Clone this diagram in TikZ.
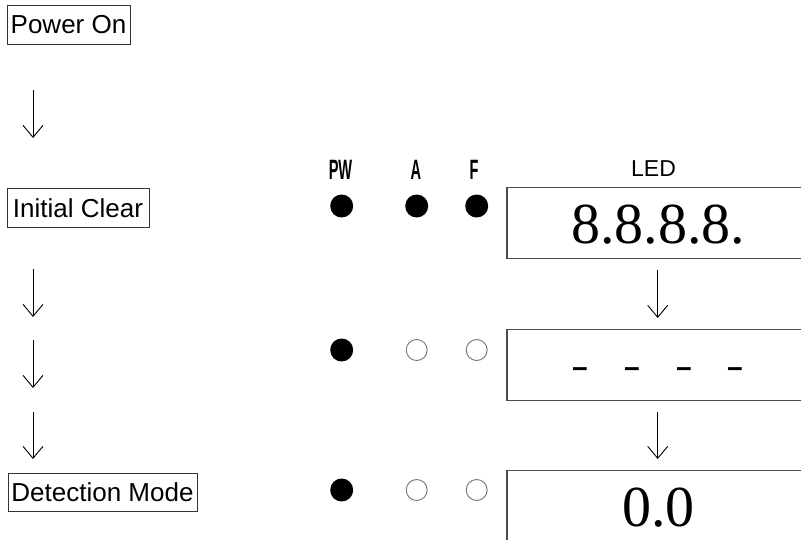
\documentclass[tikz,border=0pt]{standalone}
\usepackage{fontspec}
\usepackage{graphicx}
\setmainfont{Liberation Sans}
\newfontfamily\serifdig{Liberation Serif}
\usetikzlibrary{arrows.meta}
\tikzset{
  stepbox/.style={draw=black!80, line width=0.9pt, inner sep=0pt, font=\fontsize{26}{30}\selectfont},
  ledbox/.style={draw=black!70, line width=1.3pt, inner sep=0pt, minimum width=303pt, minimum height=71pt},
  digits/.style={inner sep=0pt, font=\serifdig\fontsize{58}{62}\selectfont},
  dashtext/.style={inner sep=0pt, font=\serifdig\fontsize{53}{56}\selectfont},
  flowarrow/.style={line width=0.9pt, -{Straight Barb[length=12pt,width=20pt,line width=0.9pt]}},
  ledon/.style={circle, fill=black, minimum size=23pt, inner sep=0pt},
  ledoff/.style={circle, draw=black!55, line width=0.9pt, minimum size=21pt, inner sep=0pt},
  lamplabel/.style={inner sep=0pt, font=\bfseries\fontsize{28}{30}\selectfont},
  ledlabel/.style={inner sep=0pt, font=\fontsize{23}{26}\selectfont}
}
\begin{document}
\begin{tikzpicture}[x=1pt,y=-1pt]
\clip (0,0) rectangle (801,539);
\fill[white] (0,0) rectangle (801,539);

% step boxes
\node[stepbox, minimum width=123pt, minimum height=39pt] (pon) at (68.5,24.5) {Power On};
\node[stepbox, minimum width=142pt, minimum height=39pt] (ic) at (78,207.8) {Initial Clear};
\node[stepbox, minimum width=189pt, minimum height=38pt] (dm) at (102.5,492) {Detection Mode};

% left arrows
\coordinate (a1s) at (33,90);  \coordinate (a1e) at (33,138);
\coordinate (a2s) at (33,269); \coordinate (a2e) at (33,317);
\coordinate (a3s) at (33,340); \coordinate (a3e) at (33,388);
\coordinate (a4s) at (33,412); \coordinate (a4e) at (33,459);
\draw[flowarrow] (a1s) -- (a1e);
\draw[flowarrow] (a2s) -- (a2e);
\draw[flowarrow] (a3s) -- (a3e);
\draw[flowarrow] (a4s) -- (a4e);

% lamp labels
\node[lamplabel, anchor=base] (pw) at (340.5,179) {\scalebox{0.52}[1]{PW}};
\node[lamplabel, anchor=base] (la) at (416,179) {\scalebox{0.52}[1]{A}};
\node[lamplabel, anchor=base] (lf) at (474,179) {\scalebox{0.52}[1]{F}};
\node[ledlabel, anchor=base] (led) at (653.5,176) {LED};

% lamps row 1
\node[ledon] (p1) at (341.7,206) {};
\node[ledon] (q1) at (416.7,206) {};
\node[ledon] (f1) at (476.7,206) {};
% row 2
\node[ledon] (p2) at (341.7,350) {};
\node[ledoff] (q2) at (416.7,350) {};
\node[ledoff] (f2) at (476.7,350) {};
% row 3
\node[ledon] (p3) at (341.7,490) {};
\node[ledoff] (q3) at (416.7,490) {};
\node[ledoff] (f3) at (476.7,490) {};

% LED boxes
\node[ledbox] (b1) at (658.5,223.2) {};
\node[ledbox] (b2) at (658.5,364.7) {};
\node[ledbox] (b3) at (658.5,506.2) {};

\node[digits, anchor=base] (t1) at (658,243) {8.8.8.8.};
\node[dashtext, anchor=base] (t2) at (658,378) {\scalebox{1}[0.75]{-\hspace{34pt}-\hspace{34pt}-\hspace{34pt}-}};
\node[digits, anchor=base] (t3) at (658.5,526) {0.0};

% right arrows
\coordinate (r1s) at (657.7,270); \coordinate (r1e) at (657.7,318);
\coordinate (r2s) at (657.7,411.7); \coordinate (r2e) at (657.7,459);
\draw[flowarrow] (r1s) -- (r1e);
\draw[flowarrow] (r2s) -- (r2e);
\end{tikzpicture}
\end{document}
